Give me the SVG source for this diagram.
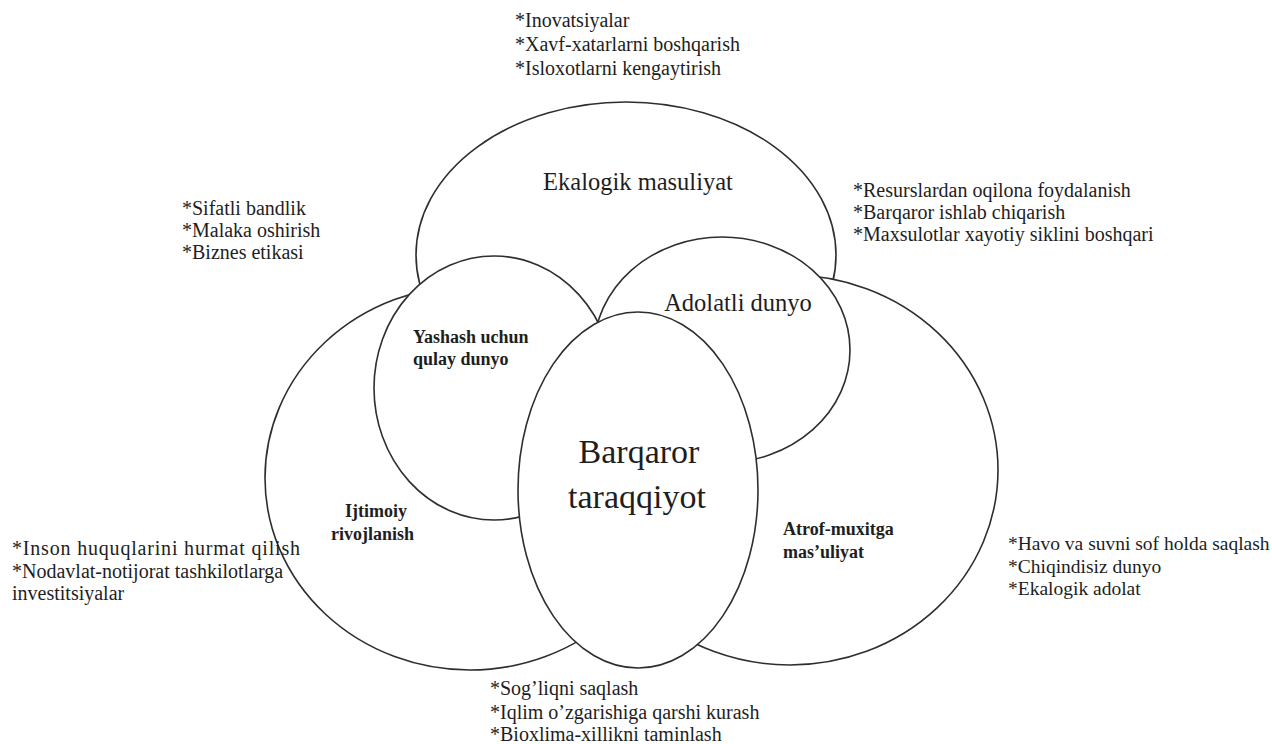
<svg xmlns="http://www.w3.org/2000/svg" width="1272" height="744" viewBox="0 0 1272 744">
<style>
.c{fill:#fff;stroke:#2e2e2e;stroke-width:1.6}
.t{font-family:"Liberation Serif","Times New Roman",serif;fill:#1e1e1e}
.n{font-size:20px}
.b{font-size:18px;font-weight:bold}
.m{font-size:24.5px}
</style>
<rect width="1272" height="744" fill="#fff"/>
<g id="ekalogik">
<ellipse class="c" cx="626" cy="255" rx="210" ry="153"/>
<text class="t m" x="638" y="190" text-anchor="middle">Ekalogik masuliyat</text>
</g>
<g id="ijtimoiy">
<ellipse class="c" cx="470" cy="478" rx="205" ry="192"/>
<text class="t b" x="345" y="517">Ijtimoiy</text>
<text class="t b" x="331" y="540">rivojlanish</text>
</g>
<g id="atrof">
<ellipse class="c" cx="790" cy="470" rx="208" ry="195"/>
<text class="t b" x="783" y="535" font-size="20">Atrof-muxitga</text>
<text class="t b" x="783" y="558" font-size="20">mas’uliyat</text>
</g>
<g id="yashash">
<ellipse class="c" cx="494" cy="388" rx="120" ry="132"/>
<text class="t b" x="413" y="343">Yashash uchun</text>
<text class="t b" x="413" y="365">qulay dunyo</text>
</g>
<g id="adolatli">
<ellipse class="c" cx="722" cy="350" rx="128" ry="113"/>
<text class="t m" x="738" y="311" text-anchor="middle">Adolatli dunyo</text>
</g>
<g id="barqaror">
<ellipse class="c" cx="638" cy="490" rx="120" ry="178"/>
<text class="t" x="639" y="463" font-size="34" text-anchor="middle">Barqaror</text>
<text class="t" x="637" y="508" font-size="34" text-anchor="middle">taraqqiyot</text>
</g>
<g id="notes" class="t n">
<text x="515" y="27">*Inovatsiyalar</text>
<text x="515" y="51">*Xavf-xatarlarni boshqarish</text>
<text x="515" y="75">*Isloxotlarni kengaytirish</text>
<text x="182" y="215">*Sifatli bandlik</text>
<text x="182" y="237">*Malaka oshirish</text>
<text x="182" y="259">*Biznes etikasi</text>
<text x="853" y="197">*Resurslardan oqilona foydalanish</text>
<text x="853" y="219">*Barqaror ishlab chiqarish</text>
<text x="853" y="241">*Maxsulotlar xayotiy siklini boshqari</text>
<text x="12" y="555" textLength="288" lengthAdjust="spacing">*Inson huquqlarini hurmat qilish</text>
<text x="12" y="578">*Nodavlat-notijorat tashkilotlarga</text>
<text x="12" y="600">investitsiyalar</text>
<text x="1008" y="550" font-size="19.5">*Havo va suvni sof holda saqlash</text>
<text x="1008" y="573" font-size="19.5">*Chiqindisiz dunyo</text>
<text x="1008" y="595" font-size="19.5">*Ekalogik adolat</text>
<text x="490" y="695">*Sog’liqni saqlash</text>
<text x="490" y="719">*Iqlim o’zgarishiga qarshi kurash</text>
<text x="490" y="741">*Bioxlima-xillikni taminlash</text>
</g>
</svg>
